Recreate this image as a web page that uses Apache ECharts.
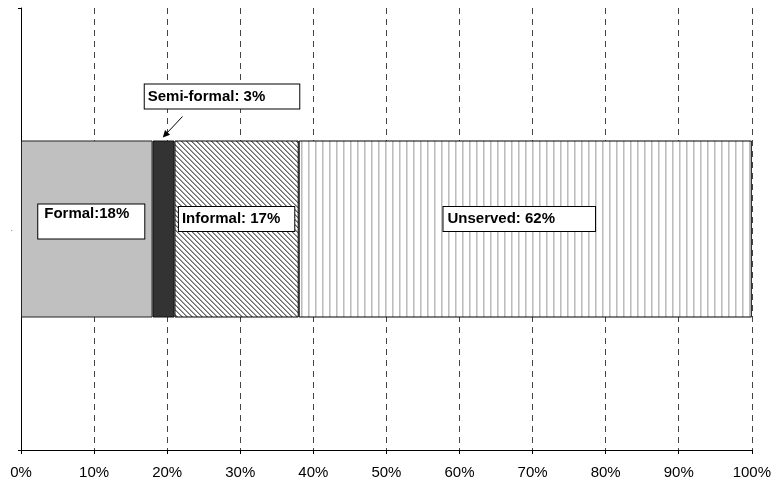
<!DOCTYPE html>
<html><head><meta charset="utf-8">
<script src="https://cdn.jsdelivr.net/npm/echarts@6/dist/echarts.min.js"></script>
<style>html,body{margin:0;padding:0;background:#fff}#c{width:774px;height:481px}</style>
</head><body><div id="c"></div>
<script>
var categories = ['.'];
var seriesNames = ['Formal', 'Semi-formal', 'Informal', 'Unserved'];
var formal = [18];
var semiFormal = [3];
var informal = [17];
var unserved = [62];
var tickLabels = ['0%','10%','20%','30%','40%','50%','60%','70%','80%','90%','100%'];

function makePattern(w, h, fn) {
  var c = document.createElement('canvas'); c.width = w; c.height = h;
  var ctx = c.getContext('2d');
  ctx.fillStyle = '#fff'; ctx.fillRect(0, 0, w, h);
  for (var x = 0; x < w; x++) for (var y = 0; y < h; y++) {
    var col = fn(x, y); if (col) { ctx.fillStyle = col; ctx.fillRect(x, y, 1, 1); }
  }
  return c;
}
var hatch = makePattern(5, 5, function (x, y) {
  var m = ((x - y) % 5 + 5) % 5;
  return m === 0 ? '#6a6a6a' : (m === 1 ? '#a4a4a4' : null);
});
var vlines = makePattern(7, 4, function (x) {
  return x === 0 ? '#bcbcbc' : (x === 1 ? '#dadada' : null);
});

var chart = echarts.init(document.getElementById('c'));
var font = 'Arial, "Liberation Sans", sans-serif';
var boxLabel = {
  show: true, color: '#000', fontFamily: font, fontWeight: 'bold', fontSize: 15,
  backgroundColor: '#fff', borderColor: '#000', borderWidth: 1
};
chart.setOption({
  animation: false,
  grid: { left: 21, right: 19, top: 8, bottom: 31 },
  xAxis: {
    type: 'value', min: 0, max: 100, interval: 10,
    axisLine: { show: true, lineStyle: { color: '#000', width: 1 } },
    axisTick: { show: true, length: 4, lineStyle: { color: '#000' } },
    axisLabel: { margin: 15, color: '#000', fontFamily: font, fontSize: 15,
      formatter: function (v) { return tickLabels[Math.round(v / 10)]; } },
    splitLine: { show: true, lineStyle: { color: '#444', type: [6, 5], width: 1 } }
  },
  yAxis: {
    type: 'category', data: categories,
    axisLine: { show: true, lineStyle: { color: '#000', width: 1 } },
    axisTick: { show: true, length: 3, lineStyle: { color: '#000' } },
    axisLabel: { color: '#777', fontSize: 9, margin: 8 },
    splitLine: { show: false }
  },
  series: [
    { name: seriesNames[0], type: 'bar', stack: 's', barWidth: 177, data: formal,
      itemStyle: { color: '#c0c0c0', borderColor: '#222', borderWidth: 1 },
      label: Object.assign({}, boxLabel, { position: 'inside', lineHeight: 15, padding: [3, 15, 1, 6], offset: [4.5, -7.5],
        formatter: 'Formal:18%\n ' }) },
    { name: seriesNames[1], type: 'bar', stack: 's', data: semiFormal,
      itemStyle: { color: '#333333', borderColor: '#111', borderWidth: 1 },
      label: Object.assign({}, boxLabel, { position: 'top', distance: 32, offset: [58.5, 0], padding: [5, 34, 4, 3],
        formatter: 'Semi-formal: 3%' }) },
    { name: seriesNames[2], type: 'bar', stack: 's', data: informal,
      itemStyle: { color: { image: hatch, repeat: 'repeat' }, borderColor: '#000', borderWidth: 1 },
      label: Object.assign({}, boxLabel, { position: 'inside', padding: [5, 14, 4, 3], offset: [0, -10],
        formatter: 'Informal: 17%' }) },
    { name: seriesNames[3], type: 'bar', stack: 's', data: unserved,
      itemStyle: { color: { image: vlines, repeat: 'repeat' }, borderColor: '#000', borderWidth: 1 },
      label: Object.assign({}, boxLabel, { position: 'inside', padding: [5, 40, 4, 4], offset: [-6, -10],
        formatter: 'Unserved: 62%' }) }
  ]
});

// arrow from the semi-formal label to its bar
var xTip = chart.convertToPixel({ xAxisIndex: 0 }, 19.4);
var xTail = chart.convertToPixel({ xAxisIndex: 0 }, 22.1);
var yc = chart.convertToPixel({ yAxisIndex: 0 }, categories[0]);
var yTip = yc - 177 / 2 - 3, yTail = yTip - 21;
var ang = Math.atan2(yTip - yTail, xTip - xTail);
var L = 7, W = 3.5;
var bx = xTip - L * Math.cos(ang), by = yTip - L * Math.sin(ang);
var px = -Math.sin(ang) * W, py = Math.cos(ang) * W;
chart.setOption({
  graphic: [
    { type: 'line', shape: { x1: xTail, y1: yTail, x2: bx, y2: by }, style: { stroke: '#000', lineWidth: 1 } },
    { type: 'polygon', shape: { points: [[xTip, yTip], [bx + px, by + py], [bx - px, by - py]] }, style: { fill: '#000' } }
  ]
});
</script></body></html>
